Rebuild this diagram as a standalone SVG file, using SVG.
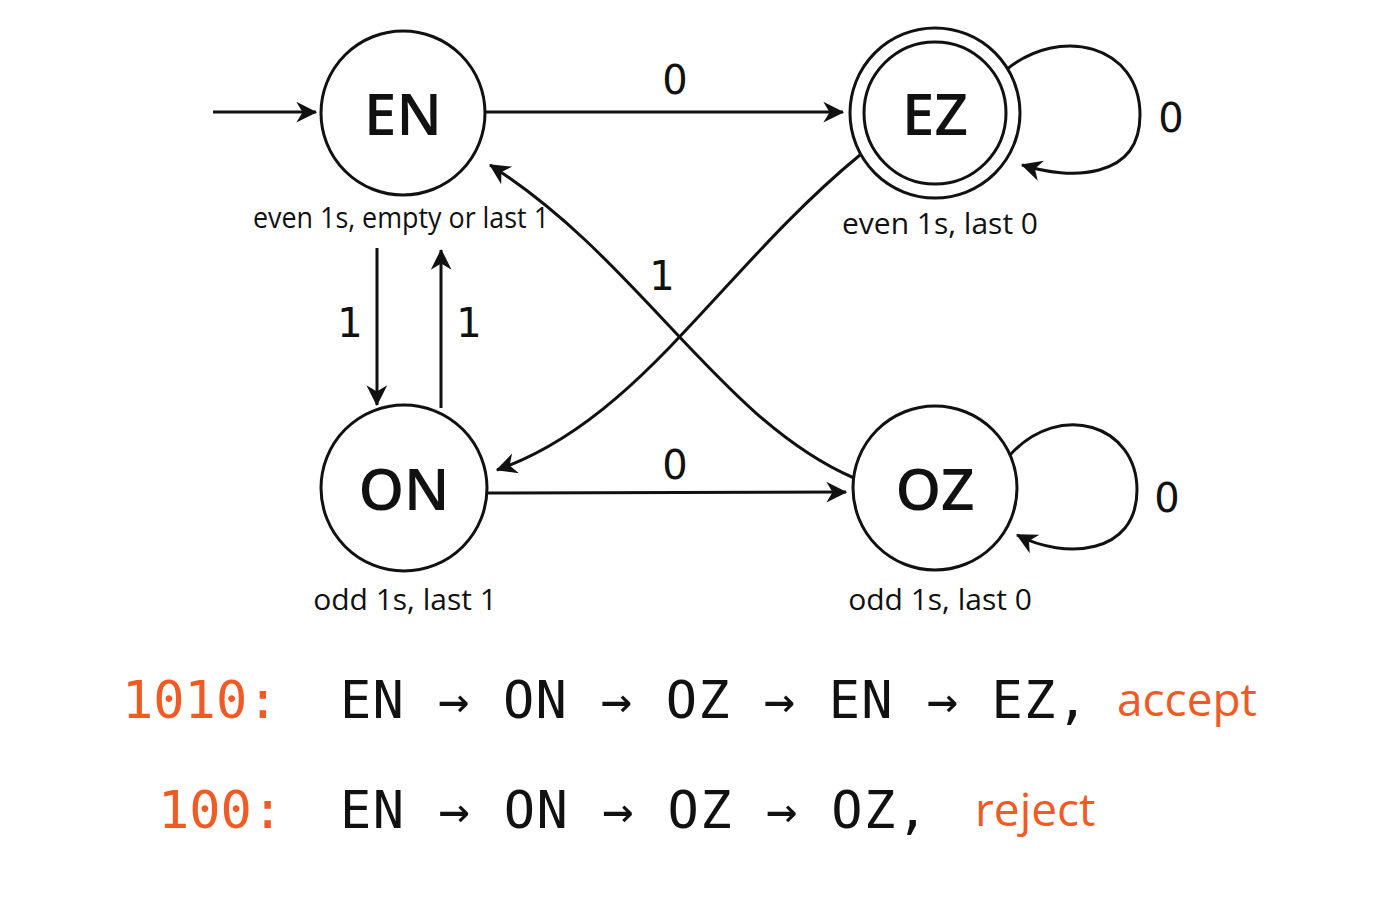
<svg xmlns="http://www.w3.org/2000/svg" width="1400" height="900" viewBox="0 0 1400 900">
<style>
.st{fill:#fff;stroke:#111;stroke-width:3}
.nl{font-family:"Open Sans","DejaVu Sans",sans-serif;font-weight:600;font-size:58px;fill:#111;text-anchor:middle}
.cap{font-family:"Open Sans","DejaVu Sans",sans-serif;font-size:30px;fill:#111;text-anchor:middle}
.el{font-family:"DejaVu Sans",sans-serif;font-size:40px;fill:#111;text-anchor:middle}
.e{fill:none;stroke:#111;stroke-width:3;marker-end:url(#ah)}
.seq{font-family:"DejaVu Sans Mono","Liberation Mono",monospace;font-size:52px;fill:#111}
.or{fill:#f05a24}
.w{font-family:"Open Sans","DejaVu Sans",sans-serif;font-size:46px;fill:#f05a24}
</style>
<defs><marker id="ah" viewBox="0 0 10 10" refX="9" refY="5" markerWidth="8" markerHeight="8" markerUnits="userSpaceOnUse" orient="auto" style="overflow:visible"><path d="M0,0 L10,5 L0,10 L3,5 Z" fill="#111" transform="scale(2.6) translate(-6,-3)"/></marker></defs>
<rect width="1400" height="900" fill="#fff"/>
<g id="edges">
<path class="e" d="M213,112 L316,112"/>
<path class="e" d="M486,112 L843,112"/>
<path class="e" d="M1006,70 C1060,25 1140,45 1140,115 C1140,180 1070,180 1022,165"/>
<path class="e" d="M860,155 C720,270 640,420 497,470"/>
<path class="e" d="M854,478 C720,420 640,260 490,165"/>
<path class="e" d="M377,248 L377,405"/>
<path class="e" d="M441,408 L441,250"/>
<path class="e" d="M488,493 L846,492"/>
<path class="e" d="M1010,455 C1060,400 1137,425 1137,490 C1137,555 1065,560 1017,535"/>
<text class="el" x="675" y="94">0</text>
<text class="el" x="1171" y="132">0</text>
<text class="el" x="662" y="290">1</text>
<text class="el" x="350" y="337">1</text>
<text class="el" x="469" y="337">1</text>
<text class="el" x="675" y="479">0</text>
<text class="el" x="1167" y="512">0</text>
</g>
<g id="EN"><circle class="st" cx="403" cy="113" r="82"/><text class="nl" x="403" y="135">EN</text><text class="cap" x="401" y="228" textLength="296" lengthAdjust="spacingAndGlyphs">even 1s, empty or last 1</text></g>
<g id="EZ"><circle class="st" cx="935" cy="113" r="85"/><circle class="st" cx="935" cy="113" r="71"/><text class="nl" x="935" y="135">EZ</text><text class="cap" x="940" y="234">even 1s, last 0</text></g>
<g id="ON"><circle class="st" cx="404" cy="488" r="83"/><text class="nl" x="404" y="510">ON</text><text class="cap" x="405" y="610">odd 1s, last 1</text></g>
<g id="OZ"><circle class="st" cx="935" cy="488" r="82"/><text class="nl" x="935" y="510">OZ</text><text class="cap" x="940" y="610">odd 1s, last 0</text></g>
<g id="traces">
<text class="seq or" x="122" y="718">1010:</text>
<text class="seq" x="340" y="718" textLength="748">EN → ON → OZ → EN → EZ,</text>
<text class="w" x="1117" y="716">accept</text>
<text class="seq or" x="158" y="828">100:</text>
<text class="seq" x="340" y="828" textLength="588">EN → ON → OZ → OZ,</text>
<text class="w" x="975" y="826">reject</text>
</g>
</svg>
